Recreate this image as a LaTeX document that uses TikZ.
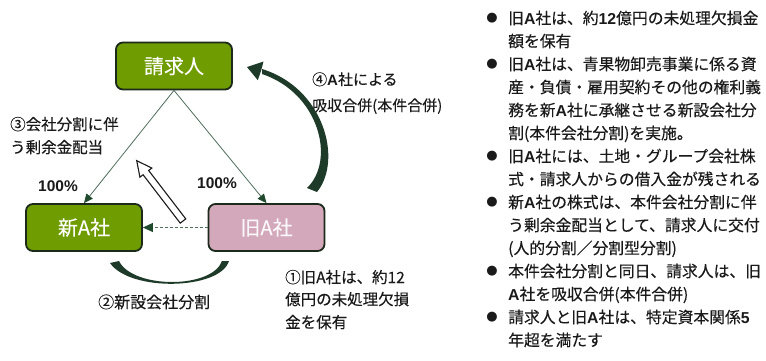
\documentclass[tikz,border=0pt]{standalone}
\usepackage{fontspec}
\setmainfont{Noto Sans CJK JP}[FakeBold=0.25]
\newfontfamily\lat{Liberation Sans}
\newfontfamily\dv{DejaVu Sans}
\usetikzlibrary{arrows.meta}
\definecolor{boxgreen}{HTML}{6F9C00}
\definecolor{boxpink}{HTML}{D3A8BB}
\definecolor{edgecol}{HTML}{1C2A1C}
\definecolor{conncol}{HTML}{4F6E5A}
\definecolor{tipgreen}{HTML}{1F4A2E}
\definecolor{arcgreen}{HTML}{1E3A28}
\definecolor{txtcol}{HTML}{1A1A1A}
\newcommand\bA{{\lat\bfseries A}}
\newcommand\bN[1]{{\lat\bfseries #1}}
\begin{document}
\begin{tikzpicture}[x=1pt,y=1pt,
  entity/.style={draw=edgecol, line width=1.8pt, rounded corners=7pt,
    minimum width=116pt, minimum height=47pt, inner sep=0pt,
    font=\fontsize{20}{24}\selectfont},
  thinconn/.style={draw=conncol, line width=0.8pt,
    -{Triangle[width=8pt,length=9pt,fill=tipgreen,color=tipgreen]}},
  dashconn/.style={draw=conncol, line width=0.8pt, dash pattern=on 3pt off 2pt,
    -{Triangle[width=9pt,length=10pt,fill=tipgreen,color=tipgreen]}},
  lbl/.style={anchor=base west, inner sep=0pt, text=txtcol},
  rtxt/.style={anchor=base west, inner sep=0pt, text=txtcol,
    font=\fontsize{15.8}{20}\selectfont},
  bul/.style={inner sep=0pt, text=txtcol, font=\dv\fontsize{13}{14}\selectfont}
]
\useasboundingbox[fill=white] (0,0) rectangle (766,-360);

% entities
\node[entity, fill=boxgreen, text=white] (req) at (174,-66) {請求人};
\node[entity, fill=boxgreen, text=white] (newa) at (84,-227.5) {新A社};
\node[entity, fill=boxpink, text=white!92!boxpink] (olda) at (266.5,-227.5) {旧A社};

% connectors
\draw[thinconn] (req.south) -- (newa.north);
\draw[thinconn] (req.south) -- (olda.north);
\draw[dashconn] (olda.west) -- (newa.east);

% merger arrow (4): tapered body from old A toward the claimant
\coordinate (c4) at (312,-190);
\coordinate (c4tip) at (247,-67);
\fill[arcgreen] (317,-192) .. controls (343,-160) and (324,-88) .. (262,-69)
  -- (262,-74) .. controls (319,-93) and (336,-160) .. (307,-188) -- cycle;
\fill[arcgreen] (c4tip) -- (263.5,-61.5) -- (261,-71) -- (257.8,-80.2) -- cycle;

% split arc (2)
\fill[arcgreen] (110,-263) .. controls (130,-292) and (220,-290) .. (229,-261)
  -- (222,-261) .. controls (212,-289) and (133,-289) .. (119,-261) -- cycle;

% hollow arrow (3)
\begin{scope}[shift={(183,-221)}, rotate=127.5]
  \draw[line width=1.1pt, draw=txtcol, fill=white]
    (0,-3.5) -- (61,-3.5) -- (61,-7.5) -- (76,0) -- (61,7.5) -- (61,3.5) -- (0,3.5) -- cycle;
\end{scope}

% labels on the diagram
\node[lbl, font=\fontsize{15.5}{18}\selectfont] (l3a) at (10,-130) {③会社分割に伴};
\node[lbl, font=\fontsize{15.5}{18}\selectfont] (l3b) at (10,-153) {う剰余金配当};
\node[lbl, font=\lat\bfseries\fontsize{15.5}{18}\selectfont] (p1) at (38,-191) {100\%};
\node[lbl, font=\lat\bfseries\fontsize{15.5}{18}\selectfont] (p2) at (197,-188) {100\%};
\node[lbl, font=\fontsize{15}{18}\selectfont] (l4a) at (312,-85) {④\bA 社による};
\node[lbl, font=\fontsize{15}{18}\selectfont] (l4b) at (312,-111) {吸収合併(本件合併)};
\node[lbl, font=\fontsize{16}{18}\selectfont] (l2) at (98,-308) {②新設会社分割};
\node[lbl, font=\fontsize{15.5}{18}\selectfont] (l1a) at (285,-283) {①旧A社は、約12};
\node[lbl, font=\fontsize{15.5}{18}\selectfont] (l1b) at (285,-305) {億円の未処理欠損};
\node[lbl, font=\fontsize{15.5}{18}\selectfont] (l1c) at (285,-328) {金を保有};

% right-hand list
\foreach \t [count=\i] in {
  {旧\bA 社は、約\bN{12}億円の未処理欠損金},
  {額を保有},
  {旧\bA 社は、青果物卸売事業に係る資},
  {産・負債・雇用契約その他の権利義},
  {務を新\bA 社に承継させる新設会社分},
  {割(本件会社分割)を実施。},
  {旧\bA 社には、土地・グループ会社株},
  {式・請求人からの借入金が残される},
  {新\bA 社の株式は、本件会社分割に伴},
  {う剰余金配当として、請求人に交付},
  {(人的分割／分割型分割)},
  {本件会社分割と同日、請求人は、旧},
  {\bA 社を吸収合併(本件合併)},
  {請求人と旧\bA 社は、特定資本関係\bN{5}},
  {年超を満たす}}
  \node[rtxt] (r\i) at (508,{-24-23*(\i-1)}) {\t};
\foreach \n in {1,3,7,9,12,14}
  \node[bul] (b\n) at (492,{-18-23*(\n-1)}) {●};
\end{tikzpicture}
\end{document}
